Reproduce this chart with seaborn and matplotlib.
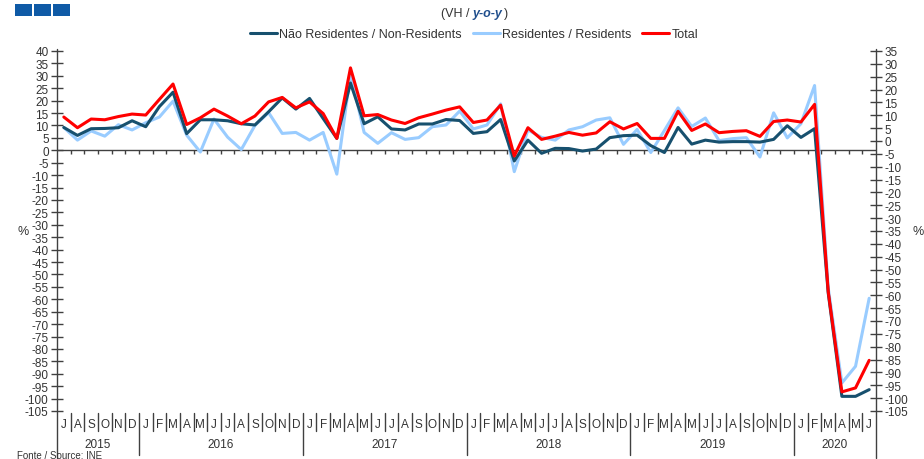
import matplotlib
matplotlib.use("Agg")
import matplotlib.pyplot as plt
import seaborn as sns
import pandas as pd
import numpy as np
from matplotlib.transforms import blended_transform_factory
from matplotlib.patches import Rectangle
from matplotlib.lines import Line2D

# Monthly year-on-year change (%), Jul 2015 - Jun 2020
month_labels = ["J", "A", "S", "O", "N", "D",
                "J", "F", "M", "A", "M", "J", "J", "A", "S", "O", "N", "D",
                "J", "F", "M", "A", "M", "J", "J", "A", "S", "O", "N", "D",
                "J", "F", "M", "A", "M", "J", "J", "A", "S", "O", "N", "D",
                "J", "F", "M", "A", "M", "J", "J", "A", "S", "O", "N", "D",
                "J", "F", "M", "A", "M", "J"]
month_numbers = [7, 8, 9, 10, 11, 12] + list(range(1, 13)) * 4 + [1, 2, 3, 4, 5, 6]
years = ["2015", "2016", "2017", "2018", "2019", "2020"]

non_residents = [9.2, 6.0, 8.7, 8.8, 9.1, 11.9, 9.5, 17.6, 23.4, 6.7, 12.3, 12.3, 11.9, 10.7, 10.2,
                 15.5, 21.1, 16.6, 20.9, 12.8, 4.8, 27.1, 10.7, 13.5, 8.6, 8.2, 10.6, 10.6, 12.4, 12.0,
                 6.8, 7.5, 12.4, -4.3, 4.1, -1.2, 0.8, 0.7, -0.3, 0.5, 5.1, 5.9, 6.1, 1.9, -0.9,
                 9.2, 2.5, 4.1, 3.3, 3.5, 3.5, 3.3, 4.4, 9.9, 5.2, 8.7, -57.5, -99.1, -99.1, -96.4]
residents = [9.2, 4.1, 7.8, 5.7, 10.3, 8.2, 11.1, 13.4, 19.8, 6.1, -0.7, 12.6, 5.3, 0.3, 10.0,
             15.2, 6.8, 7.2, 4.1, 7.2, -9.6, 30.9, 7.2, 2.8, 7.1, 4.4, 5.1, 9.5, 10.2, 15.8,
             8.6, 10.2, 18.7, -8.6, 8.2, 5.2, 4.1, 8.2, 9.5, 12.2, 13.1, 2.4, 8.4, -0.9, 8.0,
             17.1, 9.6, 13.0, 3.9, 4.7, 5.1, -2.7, 15.1, 5.0, 10.7, 26.1, -55.5, -93.7, -87.0, -59.6]
total = [13.4, 9.1, 12.6, 12.3, 13.6, 14.6, 14.2, 20.5, 26.7, 10.4, 13.1, 16.6, 13.8, 10.7, 13.8,
         19.5, 21.3, 17.1, 19.5, 14.8, 4.8, 33.2, 13.9, 14.4, 12.2, 10.8, 13.1, 14.6, 16.2, 17.5,
         11.2, 12.2, 18.2, -2.3, 9.1, 4.4, 5.7, 7.2, 6.1, 7.0, 11.5, 8.6, 10.8, 4.8, 4.8,
         15.7, 8.0, 10.6, 7.1, 7.6, 7.9, 5.6, 11.6, 12.2, 11.4, 18.5, -56.9, -97.3, -95.7, -84.6]

series_names = ["Não Residentes / Non-Residents", "Residentes / Residents", "Total"]
series_colors = ["#17506E", "#99CCFF", "#FF0000"]

sns.set_theme(style="white")
plt.rcParams["font.family"] = ["Liberation Sans", "DejaVu Sans"]
plt.rcParams["axes.unicode_minus"] = False

W, H = 924, 460
L, R, T, B = 57, 876, 52, 412
AXC = "#404040"
TXT = "#333333"


def fx(px):
    return px / W


def fy(px):
    return 1 - px / H


fig = plt.figure(figsize=(W / 100, H / 100), dpi=100)
ax = fig.add_axes([fx(L), fy(B), (R - L) / W, (B - T) / H])

n = len(month_labels)
idx = np.arange(n)
df = pd.DataFrame({"idx": idx, series_names[0]: non_residents,
                   series_names[1]: residents, series_names[2]: total})

# light series underneath, total on top
draw_order = [1, 0, 2]
for z, k in enumerate(draw_order):
    sns.lineplot(data=df, x="idx", y=series_names[k], ax=ax, color=series_colors[k],
                 lw=2.2, zorder=3 + z, legend=False)

ax.set_xlim(-0.5, n - 0.5)
ax.set_ylim(-105, 40)
ax.set_yticks(range(-105, 41, 5))
ax.set_xticks([])
ax.set_xlabel("")
ax.set_ylabel("")
for s in ax.spines.values():
    s.set_visible(False)
ax.tick_params(axis="y", left=True, direction="inout", length=8, width=1, color=AXC,
               labelsize=8.5, labelcolor=TXT, pad=2)

# zero line with monthly ticks
ax.axhline(0, color=AXC, lw=1, zorder=2)
ax.vlines(np.arange(0.5, n - 1, 1), -1.6, 0, color=AXC, lw=1, zorder=2)

ax2 = ax.twinx()
ax2.set_ylim(-105, 35)
ax2.set_yticks(range(-105, 36, 5))
for s in ax2.spines.values():
    s.set_visible(False)
ax2.tick_params(axis="y", right=True, direction="inout", length=8, width=1, color=AXC,
                labelsize=8.5, labelcolor=TXT, pad=2)
ax2.grid(False)

# vertical axis lines running down through the category labels
for xp in (L, R):
    fig.add_artist(Line2D([fx(xp), fx(xp)], [fy(T - 2), fy(459)], color=AXC, lw=1))

# month / year category labels
tr = blended_transform_factory(ax.transData, fig.transFigure)
for i, m in enumerate(month_labels):
    ax.text(i, fy(425), m, transform=tr, ha="center", va="center", fontsize=8.5,
            color=TXT, clip_on=False)
for k in range(1, n):
    x = k - 0.5
    bottom = 456 if month_numbers[k] == 1 else 432
    ax.add_line(Line2D([x, x], [fy(414), fy(bottom)], transform=tr, color=AXC, lw=1,
                       clip_on=False))
year_start = [0] + [k for k in range(1, n) if month_numbers[k] == 1] + [n]
for y, (a, b) in enumerate(zip(year_start[:-1], year_start[1:])):
    ax.text((a + b - 1) / 2, fy(445.5), years[y], transform=tr, ha="center", va="center",
            fontsize=8.5, color=TXT, clip_on=False)

# legend
handles = [Line2D([], [], color=c, lw=2.2) for c in series_colors]
fig.legend(handles, series_names, loc="center", bbox_to_anchor=(fx(474), fy(35)), ncol=3,
           frameon=False, handlelength=2.15, handletextpad=0.2, columnspacing=0.85,
           fontsize=9, labelcolor=TXT)

# subtitle, pieces laid out one after another
renderer = fig.canvas.get_renderer()
t1 = fig.text(fx(441), fy(14), "(VH / ", ha="left", va="center", fontsize=9, color=TXT)
x_next = t1.get_window_extent(renderer).x1
t2 = fig.text(x_next / W, fy(14), "y-o-y", ha="left", va="center", fontsize=9,
              color="#1F4E8C", weight="bold", style="italic")
x_next = t2.get_window_extent(renderer).x1 + 1
fig.text(x_next / W, fy(14), ")", ha="left", va="center", fontsize=9, color=TXT)

# unit labels
fig.text(fx(23), fy(232), "%", ha="center", va="center", fontsize=9, color=TXT)
fig.text(fx(918), fy(232), "%", ha="center", va="center", fontsize=9, color=TXT)

# header mark
for x0 in (15, 34, 53):
    fig.add_artist(Rectangle((fx(x0), fy(17)), 17 / W, 12 / H, transform=fig.transFigure,
                             color="#0F5AA6", lw=0))

fig.text(fx(17), fy(459.2), "Fonte / Source: INE", ha="left", va="baseline", fontsize=7,
         color=TXT)

fig.savefig("out.png", dpi=100)
